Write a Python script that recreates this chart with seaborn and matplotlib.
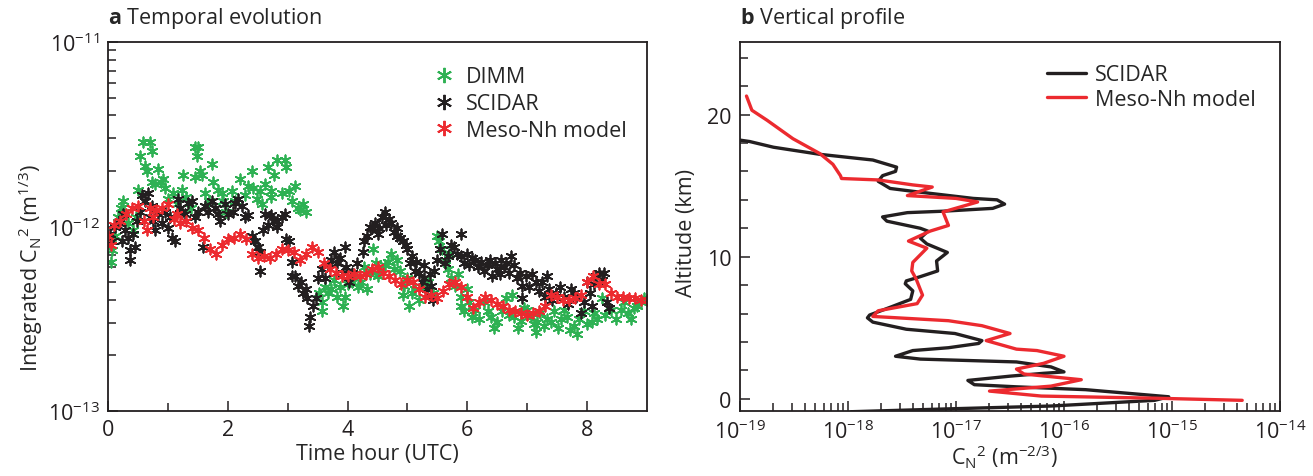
import numpy as np
import pandas as pd
import matplotlib
matplotlib.use("Agg")
import matplotlib.pyplot as plt
import seaborn as sns
from matplotlib.lines import Line2D
from matplotlib.ticker import LogFormatterMathtext, NullFormatter, FixedLocator

sns.set_theme(style="white")
plt.rcParams['font.family'] = ['Open Sans', 'DejaVu Sans']
plt.rcParams['mathtext.fontset'] = 'custom'
plt.rcParams['mathtext.rm'] = 'Open Sans'
plt.rcParams['mathtext.it'] = 'Open Sans:italic'
plt.rcParams['mathtext.bf'] = 'Open Sans:bold'
plt.rcParams['mathtext.default'] = 'regular'

# ---------------- Panel a data (time in hours UTC, log10 of integrated Cn2) ----------------
dimm_t = [0.03, 0.07, 0.05, 0.12, 0.17, 0.22, 0.25, 0.27, 0.33, 0.42, 0.47, 0.50, 0.53, 0.58, 0.62,
          0.65, 0.70, 0.73, 0.73, 0.78, 0.83, 0.88, 0.92, 0.95, 1.00, 1.08, 1.15, 1.23, 1.25, 1.30,
          1.38, 1.45, 1.48, 1.50, 1.53, 1.45, 1.57, 1.62, 1.68, 1.73, 1.75, 1.83, 1.90, 1.92, 1.97,
          2.07, 2.12, 2.20, 2.28, 2.33, 2.40, 2.42, 2.48, 2.53, 2.57, 2.62, 2.67, 2.73, 2.73, 2.78,
          2.82, 2.90, 2.95, 2.98, 3.03, 3.07, 3.12, 3.17, 3.20, 3.25, 3.30,
          3.52, 3.57, 3.58, 3.62, 3.67, 3.73, 3.78, 3.82, 3.88, 3.92, 3.95, 4.00, 4.07, 4.12, 4.18,
          4.23, 4.28, 4.33, 4.38, 4.42, 4.47, 4.50, 4.55, 4.62, 4.67, 4.73, 4.78, 4.82, 4.87, 4.92,
          4.95, 5.00, 5.03, 5.08, 5.12, 5.20, 5.27, 5.35, 5.42, 5.50, 5.53, 5.57, 5.62, 5.67, 5.70,
          5.73, 5.80, 5.85, 5.90, 5.90, 5.95, 6.00, 6.03, 6.07, 6.12, 6.20, 6.28, 6.35, 6.40, 6.45,
          6.50, 6.58, 6.65, 6.70, 6.75, 6.78, 6.85, 6.90, 6.95, 7.00, 7.07, 7.12, 7.15, 7.17, 7.22,
          7.28, 7.33, 7.40, 7.45, 7.52, 7.57, 7.62, 7.67, 7.72, 7.78, 7.83, 7.87, 7.95, 8.00, 8.08,
          8.12, 8.17, 8.25, 8.30, 8.40, 8.48, 8.57, 8.62, 8.68, 8.73, 8.78, 8.83, 8.90, 8.95]
dimm_v = [-12.10, -12.13, -12.19, -12.05, -11.95, -11.90, -11.86, -11.92, -11.98, -12.02, -11.95, -11.80, -11.62, -11.54, -11.67,
          -11.70, -11.54, -11.59, -11.76, -11.77, -11.69, -11.76, -11.74, -11.79, -11.85, -11.82, -11.88, -11.80, -11.72, -11.84,
          -11.90, -11.57, -11.62, -11.57, -11.70, -11.73, -11.72, -11.82, -11.86, -11.66, -11.76, -11.80, -11.82, -11.86, -11.92,
          -11.81, -11.86, -11.74, -11.83, -11.78, -11.70, -11.79, -11.85, -11.81, -11.88, -11.77, -11.68, -11.81, -11.84, -11.72,
          -11.64, -11.82, -11.64, -11.68, -11.81, -11.86, -11.78, -11.90, -11.91, -11.88, -11.92,
          -12.36, -12.41, -12.46, -12.33, -12.36, -12.34, -12.29, -12.38, -12.33, -12.43, -12.38, -12.31, -12.30, -12.27, -12.33,
          -12.30, -12.22, -12.34, -12.26, -12.12, -12.20, -12.27, -12.24, -12.21, -12.19, -12.15, -12.23, -12.18, -12.24, -12.37,
          -12.32, -12.28, -12.43, -12.36, -12.34, -12.40, -12.33, -12.30, -12.36, -12.05, -12.08, -12.12, -12.18, -12.23, -12.15,
          -12.28, -12.32, -12.26, -12.38, -12.43, -12.46, -12.34, -12.41, -12.49, -12.45, -12.50, -12.41, -12.46, -12.49, -12.55,
          -12.52, -12.46, -12.39, -12.48, -12.37, -12.49, -12.55, -12.51, -12.44, -12.45, -12.49, -12.53, -12.57, -12.52, -12.47,
          -12.54, -12.50, -12.52, -12.46, -12.55, -12.50, -12.45, -12.49, -12.56, -12.54, -12.58, -12.50, -12.46, -12.53, -12.52,
          -12.47, -12.50, -12.39, -12.48, -12.45, -12.50, -12.45, -12.41, -12.47, -12.50, -12.44, -12.43, -12.41, -12.39]

scidar_t = [0.03, 0.07, 0.12, 0.18, 0.23, 0.25, 0.28, 0.33, 0.37, 0.37, 0.42, 0.45, 0.48, 0.53, 0.57,
            0.62, 0.67, 0.70, 0.73, 0.75, 0.78, 0.83, 0.90, 0.95, 1.00, 1.04, 1.07, 1.12, 1.17, 1.20,
            1.23, 1.28, 1.33, 1.40, 1.45, 1.50, 1.58, 1.62, 1.67, 1.73, 1.78, 1.83, 1.87, 1.95, 2.00,
            2.08, 2.12, 2.17, 2.23, 2.28, 2.33, 2.40, 2.45, 2.50, 2.53, 2.53, 2.58, 2.62, 2.67, 2.73,
            2.78, 2.82, 2.83, 2.90, 2.95, 2.98, 3.03, 3.07, 3.08, 3.12, 3.17, 3.22, 3.25, 3.30, 3.33,
            3.37, 3.35, 3.42, 3.48, 3.50, 3.57, 3.62, 3.67, 3.73, 3.78, 3.83, 3.87, 3.92, 3.95, 3.98,
            4.03, 4.07, 4.15, 4.25, 4.28, 4.33, 4.37, 4.40, 4.45, 4.50, 4.53, 4.58, 4.62, 4.65, 4.70,
            4.73, 4.78, 4.82, 4.83, 4.88, 4.92, 4.97, 5.00, 5.05, 5.07, 5.12, 5.15, 5.20, 5.25, 5.28,
            5.28, 5.32, 5.37, 5.40, 5.42, 5.45, 5.50, 5.55, 5.58, 5.63, 5.67, 5.72, 5.78, 5.83, 5.90,
            5.90, 5.95, 6.00, 6.03, 6.07, 6.12, 6.17, 6.23, 6.28, 6.33, 6.38, 6.42, 6.47, 6.50, 6.55,
            6.57, 6.62, 6.65, 6.70, 6.73, 6.78, 6.83, 6.88, 6.92, 6.92, 6.98, 7.03, 7.08, 7.15, 7.20,
            7.25, 7.30, 7.33, 7.37, 7.42, 7.48, 7.55, 7.62, 7.68, 7.73, 7.78, 7.82, 7.90, 7.95, 8.00,
            8.05, 8.08, 8.12, 8.15, 8.20, 8.25, 8.28, 8.33, 8.37]
scidar_v = [-12.04, -12.08, -12.00, -11.98, -12.08, -11.93, -12.02, -12.06, -12.13, -12.18, -12.04, -12.11, -11.97, -11.92, -11.83,
            -11.86, -11.82, -11.95, -11.89, -11.97, -12.02, -11.93, -11.98, -11.92, -12.01, -11.95, -12.06, -12.08, -11.85, -11.90,
            -11.92, -11.93, -11.87, -11.86, -11.95, -11.92, -12.11, -11.89, -11.92, -11.86, -11.90, -11.93, -11.97, -11.88, -11.93,
            -11.92, -11.87, -11.85, -11.89, -11.95, -11.94, -12.05, -12.08, -12.11, -12.14, -12.24, -12.02, -11.93, -11.99, -11.94,
            -11.97, -12.00, -11.97, -11.95, -11.93, -12.07, -12.08, -12.19, -12.27, -12.27, -12.32, -12.30, -12.36, -12.34, -12.39,
            -12.49, -12.54, -12.43, -12.39, -12.28, -12.23, -12.28, -12.21, -12.18, -12.14, -12.20, -12.17, -12.25, -12.11, -12.22,
            -12.30, -12.25, -12.20, -12.14, -12.08, -12.05, -12.00, -12.01, -11.98, -12.04, -12.01, -11.95, -11.92, -11.99, -11.96,
            -11.98, -12.03, -12.01, -12.05, -12.06, -12.08, -12.10, -12.12, -12.20, -12.16, -12.24, -12.19, -12.25, -12.30, -12.21,
            -12.28, -12.34, -12.26, -12.32, -12.40, -12.24, -12.18, -12.12, -12.04, -12.20, -12.16, -12.10, -12.11, -12.15, -12.04,
            -12.16, -12.20, -12.15, -12.21, -12.17, -12.18, -12.22, -12.19, -12.24, -12.21, -12.18, -12.27, -12.20, -12.23, -12.26,
            -12.18, -12.22, -12.20, -12.25, -12.16, -12.21, -12.28, -12.25, -12.32, -12.39, -12.27, -12.33, -12.26, -12.30, -12.35,
            -12.30, -12.38, -12.27, -12.34, -12.40, -12.36, -12.33, -12.38, -12.42, -12.34, -12.36, -12.38, -12.47, -12.41, -12.30,
            -12.36, -12.43, -12.31, -12.27, -12.25, -12.29, -12.25, -12.41, -12.44]

model_t = [0.0, 0.1, 0.2, 0.3, 0.4, 0.5, 0.6, 0.7, 0.8, 0.9, 1.0, 1.1, 1.2, 1.3, 1.4, 1.5, 1.6, 1.7, 1.8, 1.9,
           2.0, 2.1, 2.2, 2.3, 2.4, 2.5, 2.6, 2.7, 2.8, 2.9, 3.0, 3.1, 3.2, 3.3, 3.4, 3.5, 3.6, 3.7, 3.8, 3.9,
           4.0, 4.1, 4.2, 4.3, 4.4, 4.5, 4.6, 4.7, 4.8, 4.9, 5.0, 5.1, 5.2, 5.3, 5.4, 5.5, 5.6, 5.7, 5.8, 5.9,
           6.0, 6.1, 6.2, 6.3, 6.4, 6.5, 6.6, 6.7, 6.8, 6.9, 7.0, 7.1, 7.2, 7.3, 7.4, 7.5, 7.6, 7.7, 7.8, 7.9,
           8.0, 8.1, 8.2, 8.3, 8.4, 8.5, 8.6, 8.7, 8.8, 8.9, 9.0,
           0.05, 0.65, 0.75, 1.15]
model_v = [-12.05, -11.99, -11.97, -11.93, -11.90, -11.89, -11.97, -11.90, -11.91, -11.90, -11.88, -11.96, -11.98, -11.97, -12.01, -12.02, -12.06, -12.12, -12.15, -12.10,
           -12.07, -12.06, -12.04, -12.07, -12.15, -12.17, -12.16, -12.17, -12.15, -12.12, -12.13, -12.14, -12.18, -12.15, -12.11, -12.14, -12.20, -12.23, -12.25, -12.27,
           -12.27, -12.26, -12.27, -12.26, -12.23, -12.22, -12.25, -12.27, -12.29, -12.31, -12.29, -12.30, -12.34, -12.38, -12.37, -12.39, -12.35, -12.31, -12.30, -12.33,
           -12.38, -12.44, -12.41, -12.38, -12.40, -12.42, -12.43, -12.45, -12.46, -12.47, -12.48, -12.47, -12.46, -12.43, -12.37, -12.38, -12.40, -12.40, -12.39, -12.37,
           -12.30, -12.27, -12.31, -12.31, -12.36, -12.38, -12.38, -12.39, -12.39, -12.40, -12.40,
           -12.10, -12.02, -11.95, -11.93]

# ---------------- Panel b data (altitude km, log10 of Cn2) ----------------
scidar_alt = [18.2, 18.1, 17.7, 17.2, 16.8, 16.3, 16.0, 15.7, 15.3, 14.8, 14.6, 14.1, 14.0, 13.7, 13.4,
              13.2, 13.1, 12.8, 12.5, 12.0, 11.8, 11.3, 10.9, 10.3, 9.7, 9.0, 8.6, 8.3, 8.1, 7.6,
              7.0, 6.5, 5.9, 5.7, 5.4, 4.9, 4.6, 4.1, 3.9, 3.6, 3.4, 3.0, 2.8, 2.6, 2.25,
              1.9, 1.8, 1.6, 1.3, 1.0, 0.85, 0.65, 0.15, -0.1, -0.5, -0.7, -0.9]
scidar_cn2 = [-19.0, -18.91, -18.69, -18.26, -17.77, -17.55, -17.56, -17.68, -17.72, -17.61, -17.40, -16.84, -16.62, -16.55, -16.66,
              -17.12, -17.45, -17.68, -17.64, -17.33, -17.26, -17.33, -17.27, -17.08, -17.18, -17.17, -17.33, -17.46, -17.47, -17.40,
              -17.42, -17.59, -17.80, -17.82, -17.77, -17.46, -17.01, -16.76, -16.79, -17.07, -17.40, -17.56, -17.33, -16.44, -16.12,
              -16.00, -16.19, -16.50, -16.89, -16.83, -16.44, -15.80, -15.03, -15.16, -16.12, -17.07, -17.97]
model_alt = [21.3, 20.3, 19.6, 18.3, 17.25, 16.5, 15.7, 15.5, 15.4, 15.05, 14.9, 14.3, 14.1, 13.85, 13.15,
             12.2, 11.8, 11.1, 10.6, 9.6, 9.0, 8.45, 7.3, 6.7, 6.2, 5.8, 5.5, 5.15, 4.6, 4.1,
             3.5, 3.4, 3.0, 2.5, 2.1, 1.75, 1.35, 0.9, 0.55, 0.2, 0.05, -0.1]
model_cn2 = [-18.94, -18.89, -18.75, -18.51, -18.26, -18.14, -18.07, -18.06, -17.72, -17.40, -17.22, -17.45, -17.00, -16.80, -17.12,
             -17.07, -17.24, -17.44, -17.27, -17.40, -17.41, -17.37, -17.31, -17.36, -17.72, -17.77, -17.07, -16.76, -16.50, -16.72,
             -16.44, -16.25, -16.00, -16.19, -16.44, -16.37, -15.84, -16.12, -16.69, -16.21, -15.16, -14.35]

# tick values
a_xticks = [0, 2, 4, 6, 8]
a_xminor = [1, 3, 5, 7]
a_yticks = [1e-13, 1e-12, 1e-11]
b_xticks = [1e-19, 1e-18, 1e-17, 1e-16, 1e-15, 1e-14]
b_yticks = [0, 10, 20]
b_yminor = [2, 4, 6, 8, 12, 14, 16, 18, 22, 24]

GREEN = '#2eb153'
BLACK = '#231f20'
RED = '#ec2a2f'
FS = 15.5

fig = plt.figure(figsize=(13.13, 4.77), dpi=100)
ax1 = fig.add_axes([108/1313, 1 - 412/477, 539/1313, 369/477])
ax2 = fig.add_axes([740/1313, 1 - 412/477, 540/1313, 369/477])

ast = (6, 2, 0)
df_d = pd.DataFrame({'t': dimm_t, 'v': 10 ** np.array(dimm_v)})
df_s = pd.DataFrame({'t': scidar_t, 'v': 10 ** np.array(scidar_v)})
df_m = pd.DataFrame({'t': model_t, 'v': 10 ** np.array(model_v)})
for df, c in [(df_d, GREEN), (df_s, BLACK), (df_m, RED)]:
    sns.scatterplot(data=df, x='t', y='v', ax=ax1, marker=ast, s=55, color=c,
                    edgecolor=c, linewidth=1.3, legend=False)

ax1.set_yscale('log')
ax1.set_xlim(0, 9)
ax1.set_ylim(1e-13, 1e-11)
ax1.xaxis.set_major_locator(FixedLocator(a_xticks))
ax1.xaxis.set_minor_locator(FixedLocator(a_xminor))
ax1.yaxis.set_major_locator(FixedLocator(a_yticks))
a_yminor = [m * d for d in (1e-13, 1e-12) for m in range(2, 10)]
ax1.yaxis.set_minor_locator(FixedLocator(a_yminor))
ax1.yaxis.set_major_formatter(LogFormatterMathtext())
ax1.yaxis.set_minor_formatter(NullFormatter())
ax1.set_xlabel('Time hour (UTC)', fontsize=FS)
ax1.set_ylabel(r'Integrated C$_N$$^2$ (m$^{1/3}$)', fontsize=FS)
ax1.xaxis.set_label_coords(0.5, -0.088)
ax1.yaxis.set_label_coords(-0.117, 0.39)

handles = [Line2D([], [], ls='none', marker=ast, ms=11, mew=1.4, color=c) for c in (GREEN, BLACK, RED)]
ax1.legend(handles, ['DIMM', 'SCIDAR', 'Meso-Nh model'], loc='upper right', frameon=False,
           fontsize=FS, handletextpad=0.05, labelspacing=0.27, borderaxespad=0, borderpad=0,
           bbox_to_anchor=(0.963, 0.934))

# Panel b
df_ps = pd.DataFrame({'x': 10 ** np.array(scidar_cn2), 'alt': scidar_alt})
df_pm = pd.DataFrame({'x': 10 ** np.array(model_cn2), 'alt': model_alt})
sns.lineplot(data=df_ps, x='x', y='alt', sort=False, estimator=None, ax=ax2, color=BLACK, lw=2.4, label='SCIDAR')
sns.lineplot(data=df_pm, x='x', y='alt', sort=False, estimator=None, ax=ax2, color=RED, lw=2.4, label='Meso-Nh model')
ax2.set_xscale('log')
ax2.set_xlim(1e-19, 1e-14)
ax2.set_ylim(-0.85, 25.1)
ax2.xaxis.set_major_locator(FixedLocator(b_xticks))
b_xminor = [m * d for d in b_xticks[:-1] for m in range(2, 10)]
ax2.xaxis.set_minor_locator(FixedLocator(b_xminor))
ax2.xaxis.set_major_formatter(LogFormatterMathtext())
ax2.xaxis.set_minor_formatter(NullFormatter())
ax2.yaxis.set_major_locator(FixedLocator(b_yticks))
ax2.yaxis.set_minor_locator(FixedLocator(b_yminor))
ax2.set_xlabel(r'C$_N$$^2$ (m$^{-2/3}$)', fontsize=FS)
ax2.set_ylabel('Altitude (km)', fontsize=FS)
ax2.xaxis.set_label_coords(0.49, -0.085)
ax2.yaxis.set_label_coords(-0.080, 0.486)
ax2.legend(loc='upper right', frameon=False, fontsize=FS, handlelength=1.85, handletextpad=0.4,
           labelspacing=0.18, borderaxespad=0, borderpad=0, bbox_to_anchor=(0.955, 0.94))

for ax in (ax1, ax2):
    for sp in ax.spines.values():
        sp.set_visible(True)
        sp.set_color(BLACK)
        sp.set_linewidth(1.3)
    ax.tick_params(which='both', direction='in', top=False, right=False, left=True, bottom=True,
                   labelsize=FS, colors=BLACK, width=1.1)
    ax.tick_params(which='major', length=7, pad=6)
    ax.tick_params(which='minor', length=5.5, labelleft=False, labelbottom=False)
    ax.grid(False)

ax1.text(0.0, 1.066, r'$\mathbf{a}$ Temporal evolution', transform=ax1.transAxes, fontsize=FS, ha='left', va='center')
ax2.text(0.0, 1.066, r'$\mathbf{b}$ Vertical profile', transform=ax2.transAxes, fontsize=FS, ha='left', va='center')

fig.savefig('out.png', dpi=100)
